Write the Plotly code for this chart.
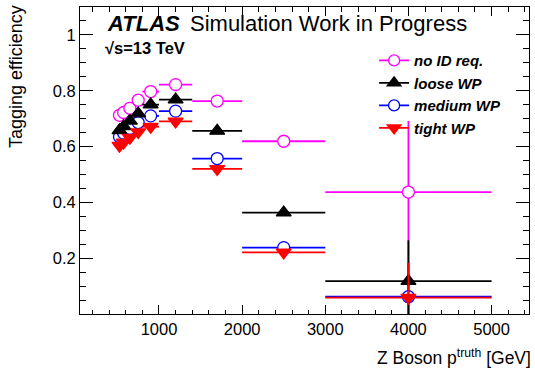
import plotly.graph_objects as go

# ---- data ----
bin_centers = [525, 575, 650, 750, 900, 1200, 1700, 2500, 4000]
bin_half_widths = [25, 25, 50, 50, 100, 200, 300, 500, 1000]

eff_noid = [0.712, 0.722, 0.737, 0.766, 0.797, 0.822, 0.763, 0.619, 0.437]
err_noid = [0.004, 0.004, 0.004, 0.004, 0.004, 0.005, 0.006, 0.008, 0.255]

eff_loose = [0.658, 0.672, 0.692, 0.718, 0.750, 0.768, 0.656, 0.363, 0.118]
err_loose = [0.004, 0.004, 0.004, 0.004, 0.004, 0.005, 0.006, 0.008, 0.146]

eff_medium = [0.635, 0.648, 0.665, 0.686, 0.710, 0.727, 0.557, 0.238, 0.062]
err_medium = [0.004, 0.004, 0.004, 0.004, 0.004, 0.005, 0.006, 0.008, 0.120]

eff_tight = [0.603, 0.615, 0.632, 0.652, 0.671, 0.690, 0.520, 0.221, 0.059]
err_tight = [0.004, 0.004, 0.004, 0.004, 0.004, 0.005, 0.006, 0.008, 0.124]

x_ticks = [1000, 2000, 3000, 4000, 5000]
y_ticks = [0.2, 0.4, 0.6, 0.8, 1.0]
y_tick_labels = ["0.2", "0.4", "0.6", "0.8", "1"]

series = [
    ("no ID req.", eff_noid, err_noid, "#ff00ff", "circle", "white", 12),
    ("loose WP", eff_loose, err_loose, "#000000", "triangle-up", "#000000", 13),
    ("medium WP", eff_medium, err_medium, "#0000ff", "circle", "white", 12),
    ("tight WP", eff_tight, err_tight, "#ff0000", "triangle-down", "#ff0000", 13),
]

FONT = "Liberation Sans, Arial, Helvetica, sans-serif"
fig = go.Figure()

draw_order = [0, 2, 1, 3]
for i in draw_order:
    name, y, ey, col, sym, fill, sz = series[i]
    fig.add_trace(go.Scatter(
        x=bin_centers, y=y, mode="markers", showlegend=False,
        marker=dict(symbol=sym, size=sz, color=fill, line=dict(color=col, width=1.3)),
        error_x=dict(type="data", array=bin_half_widths, color=col, thickness=1.8, width=0),
        error_y=dict(type="data", array=ey, color=col, thickness=1.8, width=0),
        cliponaxis=True,
    ))

# legend-only entries
for name, y, ey, col, sym, fill, sz in series:
    fig.add_trace(go.Scatter(
        x=[None], y=[None], mode="lines+markers", name="<b><i>%s</i></b>" % name,
        legendgroup=name,
        line=dict(color=col, width=1.8),
        marker=dict(symbol=sym, size=sz - 1, color=fill, line=dict(color=col, width=1.3)),
    ))

fig.update_layout(
    width=535, height=369,
    margin=dict(l=80, r=6, t=7, b=55),
    paper_bgcolor="white", plot_bgcolor="white",
    font=dict(family=FONT, color="black", size=16),
    showlegend=True,
    legend=dict(x=0.655, y=0.879, xanchor="left", yanchor="top",
                bgcolor="rgba(0,0,0,0)", font=dict(size=15, family=FONT),
                tracegroupgap=0, traceorder="grouped", itemwidth=30),
    xaxis=dict(range=[50, 5450], tickvals=x_ticks, ticks="inside", ticklen=9,
               tickcolor="black", showline=True, linecolor="black", linewidth=1,
               mirror="allticks", showgrid=False, zeroline=False,
               tickfont=dict(size=16.5),
               minor=dict(dtick=200, tick0=0, ticks="inside", ticklen=4.5, tickcolor="black")),
    yaxis=dict(range=[0, 1.1], tickvals=y_ticks, ticktext=y_tick_labels, ticks="inside",
               ticklen=13, tickcolor="black", showline=True, linecolor="black", linewidth=1,
               mirror="allticks", showgrid=False, zeroline=False,
               tickfont=dict(size=16.5),
               minor=dict(dtick=0.05, tick0=0, ticks="inside", ticklen=6, tickcolor="black")),
)

annotations = [
    dict(text="<b><i>ATLAS</i></b>", x=0.0557, y=0.946, xanchor="left", yanchor="middle",
         font=dict(size=22)),
    dict(text="Simulation Work in Progress", x=0.24, y=0.946, xanchor="left", yanchor="middle",
         font=dict(size=22)),
    dict(text="<b>\u221As=13 TeV</b>", x=0.051, y=0.866, xanchor="left", yanchor="middle",
         font=dict(size=16.5)),
    dict(text="Tagging efficiency", x=-0.1425, y=0.772, textangle=-90,
         xanchor="center", yanchor="middle", font=dict(size=18)),
    dict(text="Z Boson p<sup>truth</sup> [GeV]", x=1.009, y=-0.14, xanchor="right",
         yanchor="middle", font=dict(size=17.5)),
]
for a in annotations:
    a.update(xref="paper", yref="paper", showarrow=False)
    fig.add_annotation(**a)

fig.write_html("out.html")
